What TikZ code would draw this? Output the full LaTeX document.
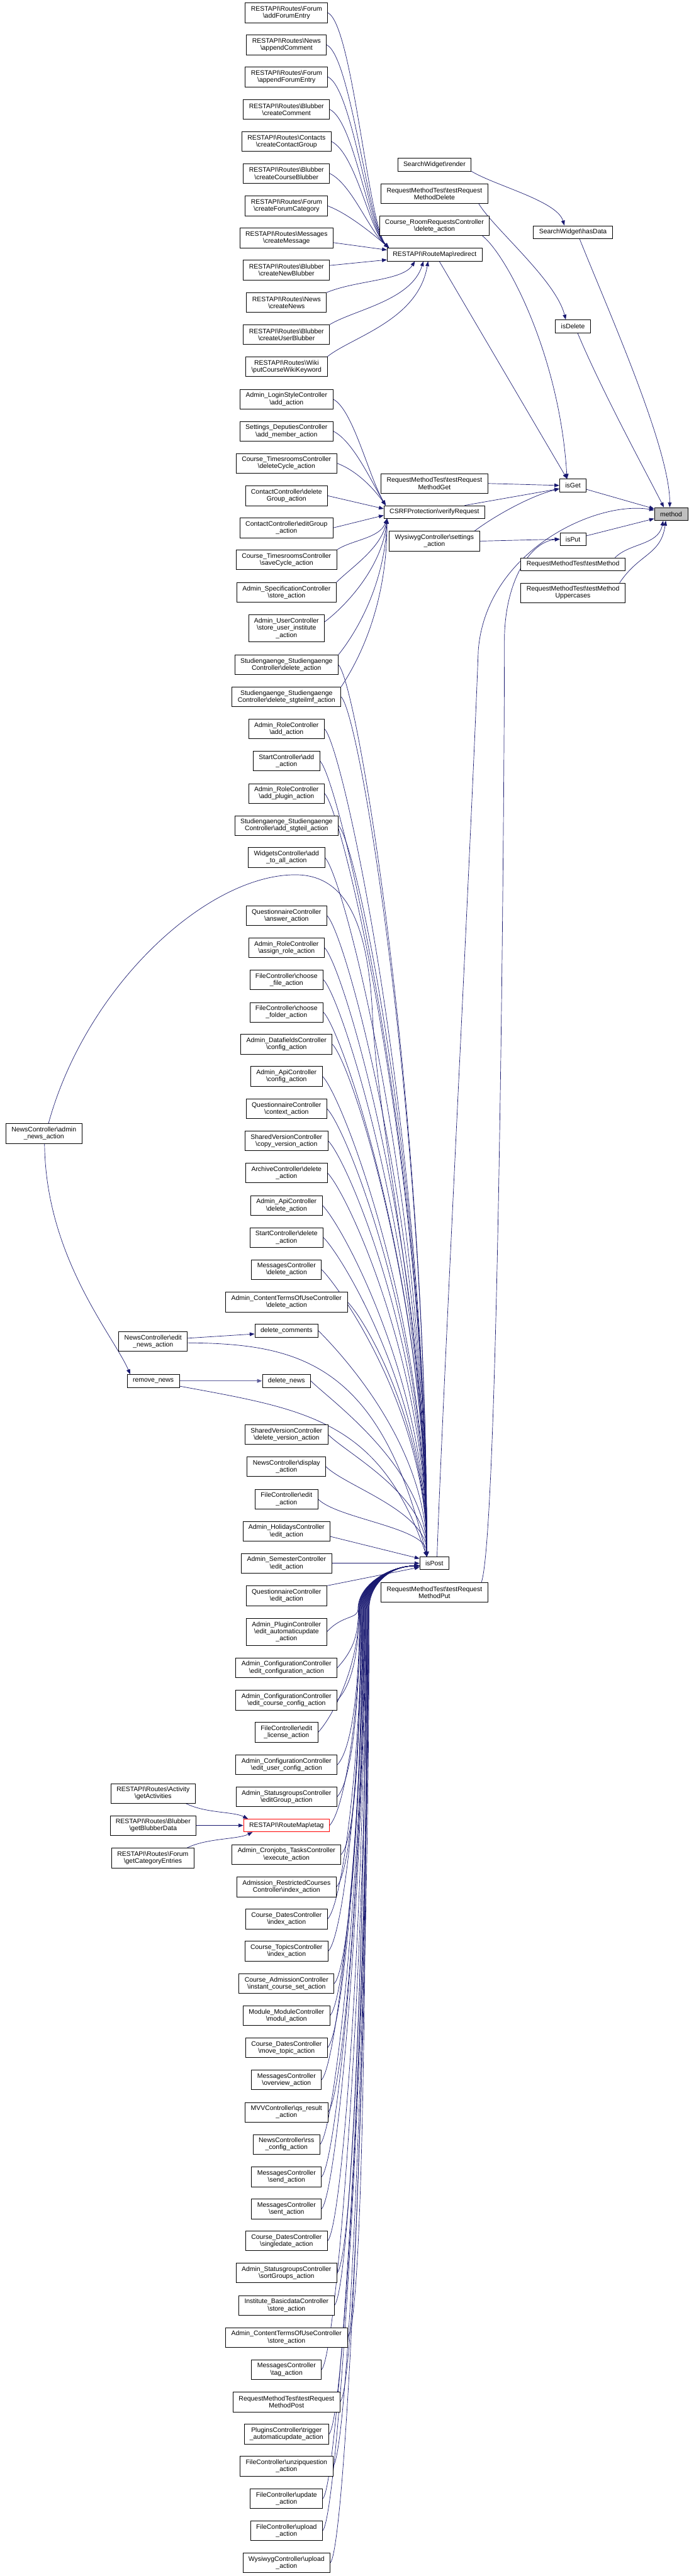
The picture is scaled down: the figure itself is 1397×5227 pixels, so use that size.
\documentclass[tikz,border=0pt]{standalone}
\usepackage{fontspec}
\setmainfont{Liberation Sans}
\usetikzlibrary{arrows.meta,calc,backgrounds}
\definecolor{eblue}{HTML}{191970}
\definecolor{mgray}{HTML}{BFBFBF}
\newcommand{\dbs}{\textbackslash}
\begin{document}
\begin{tikzpicture}[x=0.75pt,y=-0.75pt,
  box1/.style={draw=black, fill=white, line width=0.75pt, align=center,
    font=\fontsize{10}{10.7}\selectfont, inner xsep=8.6pt, inner ysep=0pt, minimum height=19.5pt},
  box2/.style={box1, minimum height=30pt},
  box3/.style={box1, minimum height=41pt},
  cl/.style={draw=eblue, line width=0.65pt, -{Triangle[length=7.5pt,width=5.6pt]}}]
\useasboundingbox (0,0) rectangle (1397,5227);

% ---------- left column ----------
\node[box2] (n01) at (581,26) {RESTAPI\dbs Routes\dbs Forum\\\dbs addForumEntry};
\node[box2] (n02) at (581,91) {RESTAPI\dbs Routes\dbs News\\\dbs appendComment};
\node[box2] (n03) at (581,156) {RESTAPI\dbs Routes\dbs Forum\\\dbs appendForumEntry};
\node[box2] (n04) at (581,222) {RESTAPI\dbs Routes\dbs Blubber\\\dbs createComment};
\node[box2] (n05) at (581,287) {RESTAPI\dbs Routes\dbs Contacts\\\dbs createContactGroup};
\node[box2] (n06) at (581,352) {RESTAPI\dbs Routes\dbs Blubber\\\dbs createCourseBlubber};
\node[box2] (n07) at (581,418) {RESTAPI\dbs Routes\dbs Forum\\\dbs createForumCategory};
\node[box2] (n08) at (581,483) {RESTAPI\dbs Routes\dbs Messages\\\dbs createMessage};
\node[box2] (n09) at (581,548) {RESTAPI\dbs Routes\dbs Blubber\\\dbs createNewBlubber};
\node[box2] (n10) at (581,614) {RESTAPI\dbs Routes\dbs News\\\dbs createNews};
\node[box2] (n11) at (581,679) {RESTAPI\dbs Routes\dbs Blubber\\\dbs createUserBlubber};
\node[box2] (n12) at (581,744) {RESTAPI\dbs Routes\dbs Wiki\\\dbs putCourseWikiKeyword};
\node[box2] (n13) at (581,810) {Admin\_LoginStyleController\\\dbs add\_action};
\node[box2] (n14) at (581,875) {Settings\_DeputiesController\\\dbs add\_member\_action};
\node[box2] (n15) at (581,940) {Course\_TimesroomsController\\\dbs deleteCycle\_action};
\node[box2] (n16) at (581,1006) {ContactController\dbs delete\\Group\_action};
\node[box2] (n17) at (581,1071) {ContactController\dbs editGroup\\\_action};
\node[box2] (n18) at (581,1136) {Course\_TimesroomsController\\\dbs saveCycle\_action};
\node[box2] (n19) at (581,1202) {Admin\_SpecificationController\\\dbs store\_action};
\node[box3] (n20) at (581,1275) {Admin\_UserController\\\dbs store\_user\_institute\\\_action};
\node[box2] (n21) at (581,1349) {Studiengaenge\_Studiengaenge\\Controller\dbs delete\_action};
\node[box2] (n22) at (581,1414) {Studiengaenge\_Studiengaenge\\Controller\dbs delete\_stgteilmf\_action};
\node[box2] (n23) at (581,1479) {Admin\_RoleController\\\dbs add\_action};
\node[box2] (n24) at (581,1544) {StartController\dbs add\\\_action};
\node[box2] (n25) at (581,1610) {Admin\_RoleController\\\dbs add\_plugin\_action};
\node[box2] (n26) at (581,1675) {Studiengaenge\_Studiengaenge\\Controller\dbs add\_stgteil\_action};
\node[box2] (n27) at (581,1740) {WidgetsController\dbs add\\\_to\_all\_action};
\node[box2] (n28) at (581,1858) {QuestionnaireController\\\dbs answer\_action};
\node[box2] (n29) at (581,1923) {Admin\_RoleController\\\dbs assign\_role\_action};
\node[box2] (n30) at (581,1988) {FileController\dbs choose\\\_file\_action};
\node[box2] (n31) at (581,2054) {FileController\dbs choose\\\_folder\_action};
\node[box2] (n32) at (581,2119) {Admin\_DatafieldsController\\\dbs config\_action};
\node[box2] (n33) at (581,2184) {Admin\_ApiController\\\dbs config\_action};
\node[box2] (n34) at (581,2250) {QuestionnaireController\\\dbs context\_action};
\node[box2] (n35) at (581,2315) {SharedVersionController\\\dbs copy\_version\_action};
\node[box2] (n36) at (581,2380) {ArchiveController\dbs delete\\\_action};
\node[box2] (n37) at (581,2446) {Admin\_ApiController\\\dbs delete\_action};
\node[box2] (n38) at (581,2511) {StartController\dbs delete\\\_action};
\node[box2] (n39) at (581,2576) {MessagesController\\\dbs delete\_action};
\node[box2] (n40) at (581,2642) {Admin\_ContentTermsOfUseController\\\dbs delete\_action};
\node[box1] (n41) at (581,2700) {delete\_comments};
\node[box1] (n42) at (581,2802) {delete\_news};
\node[box2] (n43) at (581,2911) {SharedVersionController\\\dbs delete\_version\_action};
\node[box2] (n44) at (581,2976) {NewsController\dbs display\\\_action};
\node[box2] (n45) at (581,3042) {FileController\dbs edit\\\_action};
\node[box2] (n46) at (581,3107) {Admin\_HolidaysController\\\dbs edit\_action};
\node[box2] (n47) at (581,3172) {Admin\_SemesterController\\\dbs edit\_action};
\node[box2] (n48) at (581,3238) {QuestionnaireController\\\dbs edit\_action};
\node[box3] (n49) at (581,3311) {Admin\_PluginController\\\dbs edit\_automaticupdate\\\_action};
\node[box2] (n50) at (581,3384) {Admin\_ConfigurationController\\\dbs edit\_configuration\_action};
\node[box2] (n51) at (581,3450) {Admin\_ConfigurationController\\\dbs edit\_course\_config\_action};
\node[box2] (n52) at (581,3515) {FileController\dbs edit\\\_license\_action};
\node[box2] (n53) at (581,3581) {Admin\_ConfigurationController\\\dbs edit\_user\_config\_action};
\node[box2] (n54) at (581,3646) {Admin\_StatusgroupsController\\\dbs editGroup\_action};
\node[box1, draw=red] (n55) at (581,3704) {RESTAPI\dbs RouteMap\dbs etag};
\node[box2] (n56) at (581,3763) {Admin\_Cronjobs\_TasksController\\\dbs execute\_action};
\node[box2] (n57) at (581,3829) {Admission\_RestrictedCourses\\Controller\dbs index\_action};
\node[box2] (n58) at (581,3894) {Course\_DatesController\\\dbs index\_action};
\node[box2] (n59) at (581,3959) {Course\_TopicsController\\\dbs index\_action};
\node[box2] (n60) at (581,4025) {Course\_AdmissionController\\\dbs instant\_course\_set\_action};
\node[box2] (n61) at (581,4090) {Module\_ModuleController\\\dbs modul\_action};
\node[box2] (n62) at (581,4155) {Course\_DatesController\\\dbs move\_topic\_action};
\node[box2] (n63) at (581,4220) {MessagesController\\\dbs overview\_action};
\node[box2] (n64) at (581,4286) {MVVController\dbs qs\_result\\\_action};
\node[box2] (n65) at (581,4351) {NewsController\dbs rss\\\_config\_action};
\node[box2] (n66) at (581,4417) {MessagesController\\\dbs send\_action};
\node[box2] (n67) at (581,4482) {MessagesController\\\dbs sent\_action};
\node[box2] (n68) at (581,4547) {Course\_DatesController\\\dbs singledate\_action};
\node[box2] (n69) at (581,4612) {Admin\_StatusgroupsController\\\dbs sortGroups\_action};
\node[box2] (n70) at (581,4678) {Institute\_BasicdataController\\\dbs store\_action};
\node[box2] (n71) at (581,4743) {Admin\_ContentTermsOfUseController\\\dbs store\_action};
\node[box2] (n72) at (581,4808) {MessagesController\\\dbs tag\_action};
\node[box2] (n73) at (581,4874) {RequestMethodTest\dbs testRequest\\MethodPost};
\node[box2] (n74) at (581,4939) {PluginsController\dbs trigger\\\_automaticupdate\_action};
\node[box2] (n75) at (581,5004) {FileController\dbs unzipquestion\\\_action};
\node[box2] (n76) at (581,5070) {FileController\dbs update\\\_action};
\node[box2] (n77) at (581,5135) {FileController\dbs upload\\\_action};
\node[box2] (n78) at (581,5200) {WysiwygController\dbs upload\\\_action};

% ---------- far left ----------
\node[box2] (adminnews) at (89,2300) {NewsController\dbs admin\\\_news\_action};
\node[box2] (editnews) at (310.5,2722) {NewsController\dbs edit\\\_news\_action};
\node[box1] (removenews) at (311,2802) {remove\_news};
\node[box2] (getact) at (310.5,3639) {RESTAPI\dbs Routes\dbs Activity\\\dbs getActivities};
\node[box2] (getblub) at (310.5,3704) {RESTAPI\dbs Routes\dbs Blubber\\\dbs getBlubberData};
\node[box2] (getcat) at (310,3770) {RESTAPI\dbs Routes\dbs Forum\\\dbs getCategoryEntries};

% ---------- middle column ----------
\node[box1] (render) at (881,334) {SearchWidget\dbs render};
\node[box2] (tdelete) at (881,393) {RequestMethodTest\dbs testRequest\\MethodDelete};
\node[box2] (roomreq) at (881,458) {Course\_RoomRequestsController\\\dbs delete\_action};
\node[box1] (redirect) at (881.5,516.5) {RESTAPI\dbs RouteMap\dbs redirect};
\node[box2] (tget) at (881,981) {RequestMethodTest\dbs testRequest\\MethodGet};
\node[box1] (csrf) at (881,1039) {CSRFProtection\dbs verifyRequest};
\node[box2] (wsettings) at (881,1098) {WysiwygController\dbs settings\\\_action};
\node[box1] (ispost) at (881,3172) {isPost};
\node[box2] (tput) at (881,3231) {RequestMethodTest\dbs testRequest\\MethodPut};

% ---------- right columns ----------
\node[box1] (hasdata) at (1162,471) {SearchWidget\dbs hasData};
\node[box1] (isdelete) at (1162,662) {isDelete};
\node[box1] (isget) at (1162,985) {isGet};
\node[box1] (isput) at (1162,1094) {isPut};
\node[box1] (tmethod) at (1162,1145) {RequestMethodTest\dbs testMethod};
\node[box2] (tupper) at (1162,1203) {RequestMethodTest\dbs testMethod\\Uppercases};
\node[box1, fill=mgray] (method) at (1361,1043) {method};

\begin{scope}[on background layer]
% ---------- edges to redirect ----------
\draw[cl] (n01.east) .. controls +(50,25) and +(-42,-45) .. ([xshift=3pt]redirect.north west);
\draw[cl] (n02.east) .. controls +(50,25) and +(-42,-42) .. ([xshift=3pt]redirect.north west);
\draw[cl] (n03.east) .. controls +(50,25) and +(-42,-40) .. ([xshift=3pt]redirect.north west);
\draw[cl] (n04.east) .. controls +(50,25) and +(-42,-38) .. ([xshift=3pt]redirect.north west);
\draw[cl] (n05.east) .. controls +(50,25) and +(-40,-36) .. ([xshift=3pt]redirect.north west);
\draw[cl] (n06.east) .. controls +(45,22) and +(-40,-34) .. ([xshift=3pt]redirect.north west);
\draw[cl] (n07.east) .. controls +(40,15) and +(-32,-28) .. ([xshift=3pt]redirect.north west);
\draw[cl] ([yshift=-7pt]n08.east) -- ([yshift=7pt]redirect.west);
\draw[cl] ([yshift=7pt]n09.east) -- ([yshift=-8pt]redirect.west);
\draw[cl] (n10.north east) .. controls +(60,-25) and +(-25,40) .. ([xshift=-30pt]redirect.south);
\draw[cl] (n11.north east) .. controls +(50,-30) and +(-25,80) .. ([xshift=-17pt]redirect.south);
\draw[cl] (n12.north east) .. controls +(50,-40) and +(-20,120) .. ([xshift=-10pt]redirect.south);

% ---------- edges to CSRF ----------
\draw[cl] (n13.east) .. controls +(40,20) and +(-35,-60) .. ([xshift=3pt]csrf.north west);
\draw[cl] (n14.east) .. controls +(40,20) and +(-30,-50) .. ([xshift=3pt]csrf.north west);
\draw[cl] (n15.east) .. controls +(40,15) and +(-25,-35) .. ([xshift=3pt]csrf.north west);
\draw[cl] (n16.east) -- ([yshift=5pt]csrf.west);
\draw[cl] (n17.east) -- ([yshift=-5pt]csrf.west);
\draw[cl] (n18.north east) .. controls +(30,-20) and +(-15,40) .. ([xshift=5pt]csrf.south west);
\draw[cl] (n19.north east) .. controls +(30,-30) and +(-12,60) .. ([xshift=5pt]csrf.south west);
\draw[cl] ([yshift=10pt]n20.east) .. controls +(40,-30) and +(-10,100) .. ([xshift=5pt]csrf.south west);
\draw[cl] (n21.north east) .. controls +(40,-50) and +(-5,130) .. ([xshift=5pt]csrf.south west);
\draw[cl] (n22.north east) .. controls +(40,-60) and +(0,170) .. ([xshift=5pt]csrf.south west);

% ---------- edges to isPost from above ----------
\foreach \n/\yy in {n21/1349,n22/1414,n23/1479,n24/1544,n25/1610,n26/1675,n27/1740,
  n28/1858,n29/1923,n30/1988,n31/2054,n32/2119,n33/2184,n34/2250,n35/2315,n36/2380,
  n37/2446,n38/2511,n39/2576,n40/2642,n41/2700,n42/2802,n43/2911,n44/2976,n45/3042}{
  \pgfmathsetmacro{\hh}{3160-\yy}
  \draw[cl] (\n.east) .. controls +(40,40) and +(0,-0.5*\hh) .. ([xshift=11pt]ispost.north west);
}
\draw[cl] ([yshift=-8pt]n46.east) -- ([yshift=-3pt]ispost.north west);
\draw[cl] (n47.east) -- (ispost.west);
\draw[cl] (n48.north east) -- ([yshift=-6pt]ispost.west);

% ---------- edges to isPost from below ----------
\foreach \n/\yy in {n49/3311,n50/3384,n51/3450,n52/3515,n53/3581,n54/3646,n55/3704,
  n56/3763,n57/3829,n58/3894,n59/3959,n60/4025,n61/4090,n62/4155,n63/4220,n64/4286,
  n65/4351,n66/4417,n67/4482,n68/4547,n69/4612,n70/4678,n71/4743,n72/4808,n73/4874,
  n74/4939,n75/5004,n76/5070,n77/5135,n78/5200}{
  \pgfmathsetmacro{\hh}{\yy-3265}
  \pgfmathsetmacro{\xb}{726+0.012*(\yy-3311)}
  \draw[cl] (\n.east) .. controls +(32,-35) and +(0,0.45*\hh) .. (\xb,3265)
     .. controls +(0,-50) and +(-60,0) .. ([yshift=-4pt]ispost.west);
}

% ---------- news edges ----------
\draw[cl] ([xshift=7pt]adminnews.north) .. controls (175,2000) and (420,1775) .. (599,1775)
  .. controls (700,1775) and (745,1870) .. (755,2050)
  .. controls (765,2300) and (866,2700) .. ([xshift=11pt]ispost.north west);
\draw[cl] ([xshift=1pt]adminnews.south) .. controls +(2,230) and +(-35,-80) .. ([xshift=5pt]removenews.north west);
\draw[cl] ([yshift=5pt]editnews.east) -- ([yshift=-5pt]n41.west);
\draw[cl] ([yshift=-2pt]editnews.east) .. controls (600,2727) and (770,2760) .. ([xshift=11pt]ispost.north west);
\draw[cl, draw=eblue!70, line width=1.1pt] (removenews.east) -- (n42.west);
\draw[cl] ([yshift=-8pt]removenews.east) .. controls (620,2860) and (770,2880) .. ([xshift=11pt]ispost.north west);

% ---------- etag callers ----------
\draw[cl] ([xshift=50pt]getact.south) .. controls +(40,20) and +(-30,-15) .. ([xshift=7pt]n55.north west);
\draw[cl] (getblub.east) -- (n55.west);
\draw[cl] ([xshift=52pt]getcat.north) .. controls +(40,-20) and +(-30,15) .. ([xshift=14pt]n55.south west);

% ---------- right side ----------
\draw[cl] (render.south east) .. controls +(50,30) and +(-15,-50) .. ([xshift=-13pt]hasdata.north);
\draw[cl] ([xshift=-14pt]tdelete.south east) .. controls +(30,50) and +(-20,-80) .. ([xshift=-11pt]isdelete.north);
\draw[cl] ([xshift=-11pt]roomreq.south east) .. controls +(50,40) and +(-15,-250) .. ([xshift=-9pt]isget.north);
\draw[cl] ([xshift=7pt]redirect.south) -- ([xshift=-9pt]isget.north);
\draw[cl] ([xshift=10pt]hasdata.south) .. controls +(60,150) and +(0,-120) .. ([xshift=-2pt]method.north);
\draw[cl] ([xshift=7pt]isdelete.south) .. controls +(50,120) and +(-30,-60) .. ([xshift=-11pt]method.north);
\draw[cl] ([yshift=-6pt]isget.east) -- ([yshift=8pt]method.west);
\draw[cl] ([yshift=5pt]isput.east) -- ([yshift=-7pt]method.west);
\draw[cl] ([xshift=64pt]tmethod.north) .. controls +(30,-30) and +(-10,50) .. ([xshift=-12pt]method.south);
\draw[cl] ([xshift=71pt]tupper.north) .. controls +(40,-60) and +(-10,70) .. ([xshift=-8pt]method.south);
\draw[cl] (tget.east) -- (isget.west);
\draw[cl] ([xshift=-31pt]csrf.north east) -- ([yshift=-5pt]isget.west);
\draw[cl] ([xshift=-8pt]wsettings.north east) .. controls +(40,-30) and +(-60,15) .. ([yshift=-5pt]isget.west);
\draw[cl] (wsettings.east) -- (isput.west);
\draw[cl] ([xshift=-10pt]tput.north east) .. controls +(35,-100) and +(0,300) .. (1023,1300)
  .. controls +(0,-120) and +(-60,5) .. (isput.west);
\draw[cl] ([xshift=4pt]ispost.north) .. controls +(10,-300) and +(-15,400) .. (970,1320)
  .. controls +(15,-200) and +(-120,-20) .. ([yshift=6pt]method.west);
\end{scope}
\end{tikzpicture}
\end{document}
